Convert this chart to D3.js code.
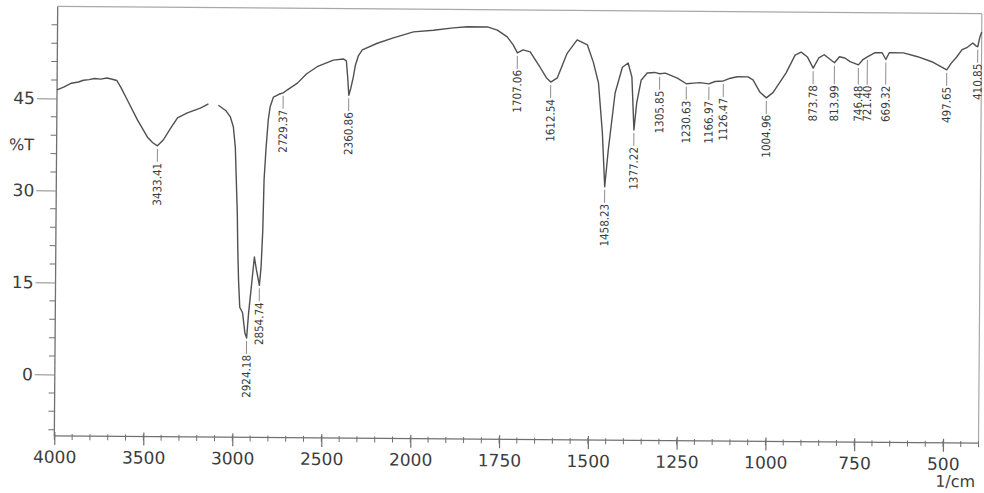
<!DOCTYPE html>
<html>
<head>
<meta charset="utf-8">
<script src="https://cdn.jsdelivr.net/npm/d3@7"></script>
<style>
  html, body { margin: 0; padding: 0; background: #fff; }
  svg { display: block; }
</style>
</head>
<body>
<svg id="chart" width="984" height="493"></svg>
<script>
// FTIR spectrum, transmittance (%T) against wavenumber (1/cm)
const wavenumbers = [
  4000, 3960, 3920, 3880, 3852, 3820, 3790, 3756, 3720, 3690, 3665, 3640, 3604, 3547, 3490, 3460,
  3433.41, 3400, 3360, 3322, 3267, 3194, 3149, 3120, 3093, 3050, 3025, 3008, 2996, 2989, 2982, 2978,
  2972, 2964, 2948, 2934, 2924.18, 2914, 2900, 2884, 2872, 2854.74, 2846, 2838, 2833, 2823, 2812,
  2802, 2784, 2750, 2729.37, 2706, 2650, 2600, 2540, 2449, 2393, 2376, 2368, 2360.86, 2350, 2336,
  2325, 2309, 2287, 2203, 2113, 2000, 1944, 1888, 1849, 1792, 1764, 1736, 1719, 1707.06, 1691, 1671,
  1643, 1625, 1612.54, 1594, 1567, 1539, 1510, 1493, 1478, 1466, 1458.23, 1449, 1431, 1411, 1395,
  1384, 1377.22, 1370, 1358, 1341, 1320, 1305.85, 1290, 1256, 1230.63, 1210, 1192, 1166.97, 1150,
  1126.47, 1110, 1087, 1057, 1043, 1023, 1004.96, 986, 950, 925, 908, 890, 873.78, 858, 843, 813.99,
  800, 785, 770, 746.48, 735, 721.40, 700, 680, 669.32, 660, 620, 580, 540, 497.65, 485, 470, 455,
  440, 425, 415, 410.85, 405, 400
];
// null marks the short break in the trace
const transmittance = [
  46.4, 46.9, 47.5, 47.7, 48.0, 48.1, 48.3, 48.2, 48.4, 48.2, 48.0, 46.8, 44.8, 41.6, 38.8, 37.9,
  37.4, 38.4, 40.3, 42.0, 42.8, 43.6, 44.3, null, 44.1, 43.2, 42.2, 40.6, 37.3, 31.9, 26.6, 21.0,
  15.6, 11.2, 10.3, 7.0, 6.2, 10.3, 14.5, 19.4, 17.3, 14.8, 17.8, 23.8, 32.0, 37.3, 41.8,
  43.9, 45.5, 46.0, 46.2, 46.7, 47.8, 49.3, 50.5, 51.6, 51.8, 51.5, 48.9, 45.9, 47.0, 48.9,
  50.8, 52.3, 53.3, 54.4, 55.3, 56.3, 56.6, 57.0, 57.2, 57.2, 56.7, 55.6, 54.3, 53.0, 53.5, 53.2,
  50.7, 49.0, 48.3, 49.0, 53.0, 55.2, 54.4, 51.6, 48.2, 40.1, 31.3, 37.3, 46.6, 50.8, 51.5,
  49.2, 40.6, 45.0, 48.7, 49.9, 50.0, 49.8, 49.9, 49.1, 48.2, 48.3, 48.4, 48.2, 48.6,
  48.7, 49.1, 49.4, 49.4, 48.9, 46.9, 46.0, 46.9, 50.1, 53.0, 53.5, 52.7, 50.9, 52.6, 53.1, 51.8,
  52.8, 52.6, 52.0, 51.5, 52.3, 52.8, 53.5, 53.5, 52.4, 53.5, 53.5, 52.9, 52.1, 50.8, 51.9, 52.9, 54.1,
  54.5, 55.2, 54.7, 54.6, 56.2, 57.0
];

// Labelled absorption peaks
const peakWavenumbers = [
  3433.41, 2924.18, 2854.74, 2729.37, 2360.86, 1707.06, 1612.54, 1458.23, 1377.22, 1305.85,
  1230.63, 1166.97, 1126.47, 1004.96, 873.78, 813.99, 746.48, 721.40, 669.32, 497.65, 410.85
];
const peakTransmittance = [
  37.4, 6.2, 14.8, 46.2, 45.9, 53.0, 48.3, 31.3, 40.6, 49.8,
  48.2, 48.2, 48.7, 46.0, 50.9, 51.8, 51.5, 52.8, 52.4, 50.8, 54.6
];

const xMajorTicks = [4000, 3500, 3000, 2500, 2000, 1750, 1500, 1250, 1000, 750, 500];
const yMajorTicks = [0, 15, 30, 45];
const yTitle = "%T";
const xUnit = "1/cm";

// ---- layout ----
const width = 984, height = 493;
const plot = { left: 56, right: 980.2, top: 10, bottom: 439.5 };
// the 4000-2000 range is drawn at half the scale of 2000-400
const split = plot.left + (plot.right - plot.left) * 0.3852;

const x = d3.scaleLinear().domain([4000, 2000, 400]).range([plot.left, split, plot.right]);
const y = d3.scaleLinear().domain([-10, 60]).range([plot.bottom, plot.top]);

const svg = d3.select("#chart");
// the printed sheet sits very slightly askew
const root = svg.append("g")
  .attr("transform", "rotate(0.45, 517, 225)");

const axisColor = "#707070";
const textColor = "#3c3c3c";
const font = "'DejaVu Sans', Verdana, sans-serif";
const peakFont = "'DejaVu Sans Condensed', 'Liberation Sans Narrow', 'DejaVu Sans', sans-serif";

// frame: top and right edges
root.append("line")
  .attr("x1", plot.left).attr("x2", plot.right)
  .attr("y1", plot.top).attr("y2", plot.top)
  .attr("stroke", "#a8a8a8").attr("stroke-width", 1.2);
root.append("line")
  .attr("x1", plot.right).attr("x2", plot.right)
  .attr("y1", plot.top).attr("y2", plot.bottom)
  .attr("stroke", "#a8a8a8").attr("stroke-width", 1.2);

// ---- x axis ----
const xMinor = d3.range(4000, 2000, -100).concat(d3.range(2000, 399, -50));
const xAxisG = root.append("g").attr("transform", `translate(0,${plot.bottom})`);
xAxisG.selectAll("line.minor").data(xMinor).join("line")
  .attr("class", "minor")
  .attr("x1", d => x(d)).attr("x2", d => x(d))
  .attr("y1", -2).attr("y2", 4)
  .attr("stroke", axisColor).attr("stroke-width", 1);
const xAxis = d3.axisBottom(x).tickValues(xMajorTicks).tickSize(9).tickPadding(6)
  .tickFormat(d3.format("d"));
xAxisG.call(xAxis);
xAxisG.select(".domain").attr("stroke", axisColor).attr("stroke-width", 1.3)
  .attr("d", `M${plot.left},0H${plot.right}`);
xAxisG.selectAll(".tick line").attr("stroke", axisColor).attr("stroke-width", 1.2).attr("y1", -4);
xAxisG.selectAll(".tick text")
  .attr("fill", textColor).style("font-family", font).style("font-size", "17px");

root.append("text")
  .attr("x", plot.right - 3).attr("y", plot.bottom + 44)
  .attr("text-anchor", "end")
  .attr("fill", textColor).style("font-family", font).style("font-size", "16px")
  .text(xUnit);

// ---- y axis ----
const yMinor = d3.range(-9, 60, 3).filter(v => !yMajorTicks.includes(v));
const yAxisG = root.append("g").attr("transform", `translate(${plot.left},0)`);
yAxisG.selectAll("line.minor").data(yMinor).join("line")
  .attr("class", "minor")
  .attr("x1", -6).attr("x2", 0)
  .attr("y1", d => y(d)).attr("y2", d => y(d))
  .attr("stroke", axisColor).attr("stroke-width", 1);
const yAxis = d3.axisLeft(y).tickValues(yMajorTicks).tickSize(20).tickPadding(2);
yAxisG.call(yAxis);
yAxisG.select(".domain").attr("stroke", axisColor).attr("stroke-width", 1.3)
  .attr("d", `M0,${plot.top}V${plot.bottom}`);
yAxisG.selectAll(".tick line").attr("stroke", "#8a8a8a").attr("stroke-width", 1);
yAxisG.selectAll(".tick text")
  .attr("fill", textColor).style("font-family", font).style("font-size", "17px");

root.append("text")
  .attr("x", 21).attr("y", y(37.5) + 6)
  .attr("text-anchor", "middle")
  .attr("fill", textColor).style("font-family", font).style("font-size", "16px")
  .text(yTitle);

// ---- spectrum trace ----
const spectrum = wavenumbers.map((w, i) => ({ w, t: transmittance[i] }));
const line = d3.line()
  .defined(d => d.t !== null)
  .x(d => x(d.w))
  .y(d => y(d.t))
  .curve(d3.curveLinear);
root.append("path")
  .datum(spectrum)
  .attr("fill", "none")
  .attr("stroke", "#505050")
  .attr("stroke-width", 1.4)
  .attr("stroke-linejoin", "round")
  .attr("d", line);

// ---- peak labels ----
const peaks = peakWavenumbers.map((w, i) => ({
  w, t: peakTransmittance[i], px: x(w), py: y(peakTransmittance[i])
}));
// shallow neighbouring peaks share one label level so their labels line up
const groups = [];
peaks.forEach((p, i) => {
  const prev = peaks[i - 1];
  if (prev && p.t > 50 && prev.t > 50 && Math.abs(p.px - prev.px) < 25) {
    groups[groups.length - 1].push(p);
  } else {
    groups.push([p]);
  }
});
groups.forEach(g => {
  const top = d3.max(g, p => p.py) + 17;
  g.forEach(p => { p.labelTop = top; });
});

const pk = root.append("g").attr("class", "peaks");
pk.selectAll("line").data(peaks).join("line")
  .attr("x1", d => d.px).attr("x2", d => d.px)
  .attr("y1", d => d.py + 3).attr("y2", d => d.labelTop - 1)
  .attr("stroke", "#808080").attr("stroke-width", 0.9);
pk.selectAll("text").data(peaks).join("text")
  .attr("transform", d => `translate(${d.px},${d.labelTop}) rotate(-90)`)
  .attr("text-anchor", "end")
  .attr("dy", "0.35em")
  .attr("fill", textColor)
  .style("font-family", peakFont)
  .style("font-size", "11.5px")
  .text(d => d3.format(".2f")(d.w));
</script>
</body>
</html>
